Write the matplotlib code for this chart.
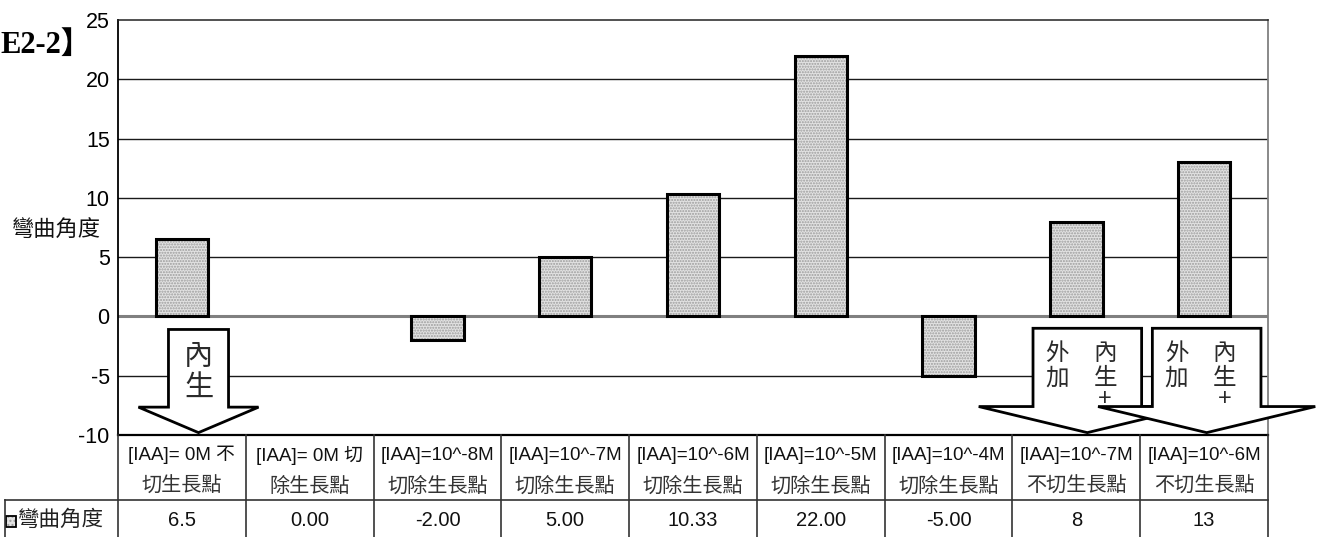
import matplotlib
matplotlib.use('Agg')
import matplotlib.pyplot as plt
import numpy as np
from matplotlib.patches import Polygon, Rectangle
from matplotlib.lines import Line2D
from matplotlib.transforms import blended_transform_factory

# ---- data -------------------------------------------------------------
header_line1 = ["[IAA]= 0M 不", "[IAA]= 0M 切", "[IAA]=10^-8M", "[IAA]=10^-7M",
                "[IAA]=10^-6M", "[IAA]=10^-5M", "[IAA]=10^-4M", "[IAA]=10^-7M",
                "[IAA]=10^-6M"]
header_line2 = ["切生長點", "除生長點", "切除生長點", "切除生長點", "切除生長點",
                "切除生長點", "切除生長點", "不切生長點", "不切生長點"]
values = [6.5, 0.0, -2.0, 5.0, 10.33, 22.0, -5.0, 8.0, 13.0]
value_labels = ["6.5", "0.00", "-2.00", "5.00", "10.33", "22.00", "-5.00", "8", "13"]
series_name = "彎曲角度"
yticks = [-10, -5, 0, 5, 10, 15, 20, 25]
title_text = "E2-2】"

# ---- styling ----------------------------------------------------------
plt.rcParams['axes.unicode_minus'] = False
W, H = 1322, 537
SANS = ['Liberation Sans', 'Noto Sans CJK TC']
CJK = ['Noto Sans CJK TC', 'Liberation Sans']


def fx(px):
    return px / W


def fy(py):
    return 1 - py / H


fig = plt.figure(figsize=(W / 100, H / 100), dpi=100)
fig.patch.set_facecolor('white')
ax = fig.add_axes([fx(118), fy(435), fx(1268) - fx(118), fy(20) - fy(435)])

n = len(values)
x = np.arange(n)
ax.set_xlim(-0.5, n - 0.5)
ax.set_ylim(-10, 25)

# horizontal gridlines and the category axis at zero
for g in yticks:
    if g in (-10, 0, 25):
        continue
    ax.axhline(g, color='#1a1a1a', lw=1.0, zorder=1)
ax.axhline(0, color='#808080', lw=2.2, zorder=1)

# bars: dotted grey fill, then a heavy black outline
bar_w = 0.41
ax.bar(x, values, width=bar_w, color='#e2e2e2', hatch='......',
       edgecolor='#9c9c9c', linewidth=0, zorder=2)
vals_nonzero = np.array(values)
mask = vals_nonzero != 0
ax.bar(x[mask], vals_nonzero[mask], width=bar_w, fill=False,
       edgecolor='black', linewidth=2.2, zorder=3)

# spines and ticks
for side, col, lw in [('left', 'black', 1.3), ('bottom', 'black', 1.6),
                      ('top', '#222222', 1.1), ('right', '#808080', 1.3)]:
    ax.spines[side].set_color(col)
    ax.spines[side].set_linewidth(lw)
ax.set_xticks([])
ax.set_yticks(yticks)
ax.tick_params(axis='y', length=0, pad=6, labelsize=15.5)
for lab in ax.get_yticklabels():
    lab.set_fontfamily(SANS)

fig.text(fx(101), fy(229), series_name, ha='right', va='center',
         fontsize=16, family=CJK, color='#111111')


# ---- block arrows -----------------------------------------------------
def block_arrow(xc, y_top, y_base, y_tip, shaft_hw, head_hw):
    pts = [(xc - shaft_hw, y_top), (xc + shaft_hw, y_top),
           (xc + shaft_hw, y_base), (xc + head_hw, y_base),
           (xc, y_tip), (xc - head_hw, y_base), (xc - shaft_hw, y_base)]
    poly = Polygon(pts, closed=True, facecolor='white', edgecolor='black',
                   linewidth=2.0, zorder=5, clip_on=False, joinstyle='miter')
    ax.add_patch(poly)


ARROW_TXT = dict(ha='center', va='center', family=CJK, color='#2a2a2a',
                 zorder=6, fontweight='light')

# arrow over the first category
a1 = 0 + 0.13
block_arrow(a1, -1.1, -7.65, -9.8, 0.235, 0.47)
ax.text(a1, -3.45, "內", fontsize=21, **ARROW_TXT)
ax.text(a1, -6.05, "生", fontsize=21, **ARROW_TXT)

# arrows over the last two categories
for xc in (7 + 0.086, 8 + 0.02):
    block_arrow(xc, -1.0, -7.6, -9.8, 0.425, 0.85)
    for dx, chars in ((-0.235, ("外", "加")), (0.14, ("內", "生"))):
        ax.text(xc + dx, -3.1, chars[0], fontsize=17, **ARROW_TXT)
        ax.text(xc + dx, -5.2, chars[1], fontsize=17, **ARROW_TXT)
    ax.text(xc + 0.14, -6.95, "+", ha='center', va='center', fontsize=17,
            family=SANS, color='#2a2a2a', zorder=6)

# ---- data table under the plot ---------------------------------------
trans = blended_transform_factory(ax.transData, fig.transFigure)
line_kw = dict(color='#333333', lw=1.2)
for k in range(n + 1):
    xk = -0.5 + k
    fig.add_artist(Line2D([xk, xk], [fy(435), 0], transform=trans, **line_kw))
fig.add_artist(Line2D([fx(5), fx(1268)], [fy(500), fy(500)],
                      transform=fig.transFigure, **line_kw))
fig.add_artist(Line2D([fx(5), fx(5)], [fy(500), 0],
                      transform=fig.transFigure, **line_kw))

for i in range(n):
    fig.text(i, fy(455), header_line1[i], transform=trans, ha='center',
             va='center', fontsize=13.5, family=SANS, color='#111111')
    fig.text(i, fy(486), header_line2[i], transform=trans, ha='center',
             va='center', fontsize=14.5, family=CJK, color='#333333',
             fontweight='light')
    fig.text(i, fy(520), value_labels[i], transform=trans, ha='center',
             va='center', fontsize=14.5, family=SANS, color='#111111')

# legend key of the table row
fig.add_artist(Rectangle((fx(6), fy(527)), fx(10), fy(516) - fy(527),
                         transform=fig.transFigure, facecolor='#e2e2e2',
                         hatch='....', edgecolor='#9c9c9c', linewidth=0))
fig.add_artist(Rectangle((fx(6), fy(527)), fx(10), fy(516) - fy(527),
                         transform=fig.transFigure, fill=False,
                         edgecolor='black', linewidth=1.3))
fig.text(fx(18), fy(520), series_name, ha='left', va='center',
         fontsize=15.5, family=CJK, color='#222222', fontweight='light')

# heading at the top left
fig.text(0, fy(45), title_text, ha='left', va='center', fontsize=22,
         fontweight='bold', family=['Liberation Serif', 'Noto Sans CJK TC'],
         color='black')

fig.savefig('out.png', dpi=100, facecolor='white')
